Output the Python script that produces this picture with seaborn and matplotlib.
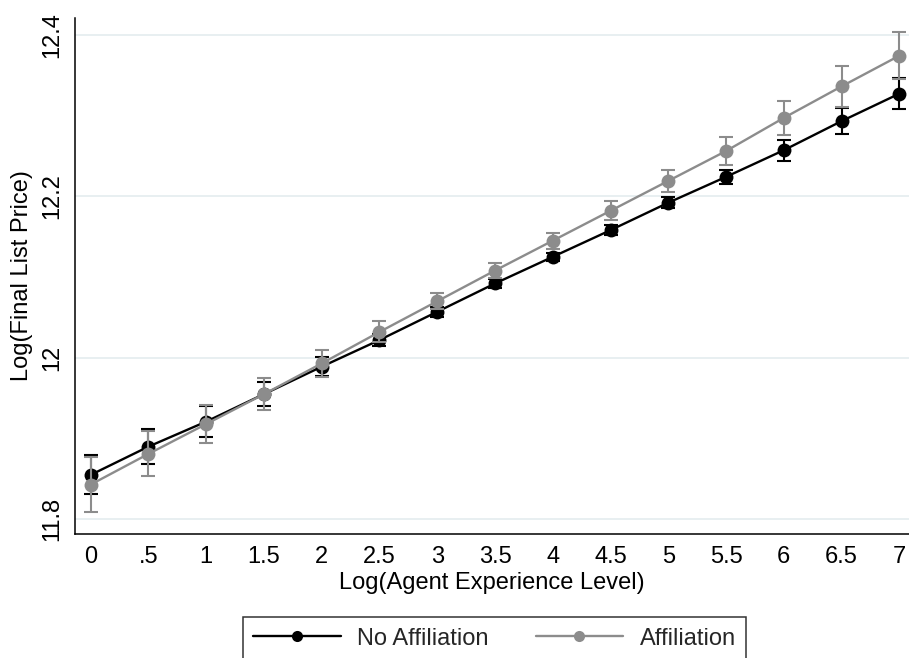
import numpy as np
import pandas as pd
import matplotlib
matplotlib.use("Agg")
import matplotlib.pyplot as plt
import seaborn as sns

# ---- data ----
experience = [0, 0.5, 1, 1.5, 2, 2.5, 3, 3.5, 4, 4.5, 5, 5.5, 6, 6.5, 7]
no_aff_mean = [11.855, 11.890, 11.921, 11.955, 11.989, 12.022, 12.057, 12.092,
               12.125, 12.158, 12.192, 12.224, 12.257, 12.293, 12.327]
no_aff_err = [0.024, 0.022, 0.019, 0.015, 0.012, 0.008, 0.006, 0.005,
              0.005, 0.006, 0.007, 0.009, 0.013, 0.016, 0.019]
aff_mean = [11.843, 11.881, 11.918, 11.955, 11.993, 12.032, 12.070, 12.108,
            12.145, 12.182, 12.219, 12.256, 12.297, 12.336, 12.374]
aff_err = [0.034, 0.028, 0.023, 0.020, 0.017, 0.013, 0.010, 0.009,
           0.010, 0.012, 0.014, 0.017, 0.021, 0.025, 0.029]
series_names = ["No Affiliation", "Affiliation"]
x_ticks = [0, 0.5, 1, 1.5, 2, 2.5, 3, 3.5, 4, 4.5, 5, 5.5, 6, 6.5, 7]
x_tick_labels = ["0", ".5", "1", "1.5", "2", "2.5", "3", "3.5", "4", "4.5",
                 "5", "5.5", "6", "6.5", "7"]
y_ticks = [11.8, 12.0, 12.2, 12.4]
y_tick_labels = ["11.8", "12", "12.2", "12.4"]

df = pd.DataFrame({
    "x": experience * 2,
    "y": no_aff_mean + aff_mean,
    "err": no_aff_err + aff_err,
    "group": [series_names[0]] * len(experience) + [series_names[1]] * len(experience),
})

sns.set_theme(style="white")
plt.rcParams["font.family"] = ["Liberation Sans", "DejaVu Sans"]
FS = 17

W, H = 909, 658
fig = plt.figure(figsize=(W / 100, H / 100), dpi=100)
ax = fig.add_axes([75 / W, 1 - 534 / H, 834 / W, (534 - 18) / H])

colors = {series_names[0]: "#000000", series_names[1]: "#8c8c8c"}

for i, name in enumerate(series_names):
    sub = df[df["group"] == name]
    ax.errorbar(sub["x"], sub["y"], yerr=sub["err"], fmt="none",
                ecolor=colors[name], elinewidth=1.5, capsize=5, capthick=1.5,
                zorder=2 + 2 * i)
    sns.lineplot(data=sub, x="x", y="y", ax=ax, color=colors[name],
                 marker="o", markersize=10, markeredgewidth=0, linewidth=1.7,
                 label=name, zorder=3 + 2 * i, legend=False)

ax.set_xlim(-0.136, 7.084)
ax.set_ylim(11.7818, 12.4207)
ax.set_xticks(x_ticks)
ax.set_xticklabels(x_tick_labels, fontsize=FS)
ax.set_yticks(y_ticks)
ax.set_yticklabels(y_tick_labels, fontsize=FS, rotation=90, va="center")

ax.yaxis.grid(True, color="#e6eef0", linewidth=1.3)
ax.xaxis.grid(False)
ax.set_axisbelow(True)

for side in ["top", "right"]:
    ax.spines[side].set_visible(False)
for side in ["left", "bottom"]:
    ax.spines[side].set_color("black")
    ax.spines[side].set_linewidth(1.1)

ax.tick_params(axis="both", which="major", direction="out", length=4.5,
               width=1.1, color="black", labelcolor="black")
ax.tick_params(axis="x", pad=4)
ax.tick_params(axis="y", pad=4)

ax.set_xlabel("Log(Agent Experience Level)", fontsize=FS, color="black", labelpad=3)
ax.set_ylabel("Log(Final List Price)", fontsize=FS, color="black", labelpad=6)

handles = [
    plt.Line2D([], [], color=colors[n], marker="o", markersize=8,
               markeredgewidth=0, linewidth=1.7)
    for n in series_names
]
leg = fig.legend(handles, series_names, loc="upper center",
                 bbox_to_anchor=(494.5 / W, 1 - 617 / H), ncol=2,
                 fontsize=FS, frameon=True, fancybox=False, edgecolor="black",
                 handlelength=3.7, handletextpad=0.7, columnspacing=2.0,
                 borderpad=0.45, borderaxespad=0)
leg.get_frame().set_linewidth(1.1)

fig.savefig("out.png", dpi=100, facecolor="white")
